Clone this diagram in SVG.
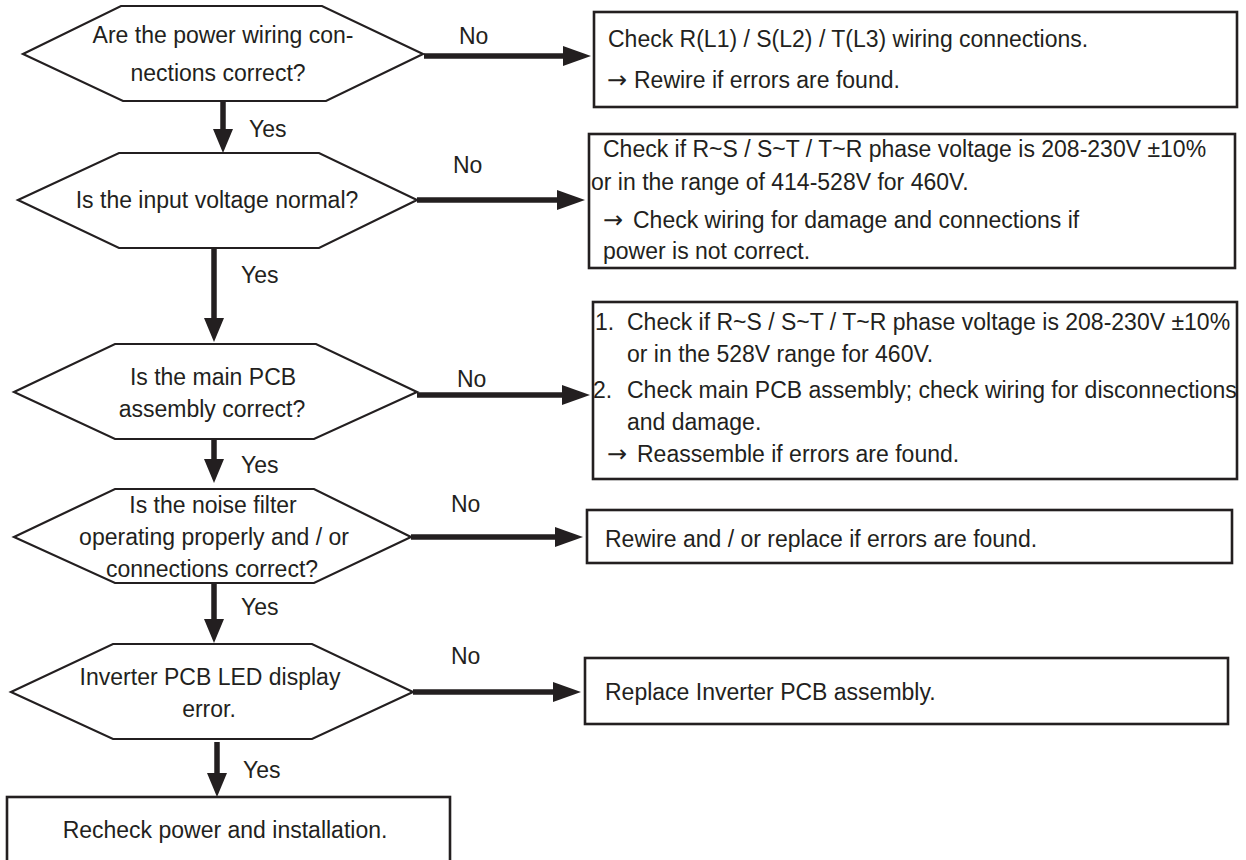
<svg xmlns="http://www.w3.org/2000/svg" width="1246" height="860" viewBox="0 0 1246 860">
<style>
.bg{fill:#ffffff}
.hex{fill:#ffffff;stroke:#231f20;stroke-width:2.2;stroke-linejoin:miter}
.box{fill:#ffffff;stroke:#231f20;stroke-width:2.6}
.t{font-family:"Liberation Sans",Arial,sans-serif;font-size:23px;fill:#231f20}
.c{text-anchor:middle}
.ar{font-family:"DejaVu Sans",sans-serif;font-size:24px}
.conn{stroke:#231f20;stroke-width:5.5;fill:none}
</style>
<defs>
<marker id="ah" markerUnits="userSpaceOnUse" markerWidth="28" markerHeight="20" refX="14" refY="10" orient="auto">
<path d="M0,0 L28,10 L0,20 Z" fill="#231f20"/>
</marker>
<marker id="av" markerUnits="userSpaceOnUse" markerWidth="24" markerHeight="20" refX="12" refY="10" orient="auto">
<path d="M0,0 L24,10 L0,20 Z" fill="#231f20"/>
</marker>
</defs>
<rect class="bg" x="0" y="0" width="1246" height="860"/>

<g id="connectors">
<line class="conn" x1="424" y1="56" x2="577" y2="56" marker-end="url(#ah)"/>
<line class="conn" x1="223" y1="102" x2="223" y2="141" marker-end="url(#av)"/>
<line class="conn" x1="417" y1="200" x2="571" y2="200" marker-end="url(#ah)"/>
<line class="conn" x1="214" y1="249" x2="214" y2="330" marker-end="url(#av)"/>
<line class="conn" x1="417" y1="395" x2="576" y2="395" marker-end="url(#ah)"/>
<line class="conn" x1="214" y1="440" x2="214" y2="471" marker-end="url(#av)"/>
<line class="conn" x1="411" y1="537" x2="569" y2="537" marker-end="url(#ah)"/>
<line class="conn" x1="214" y1="584" x2="214" y2="631" marker-end="url(#av)"/>
<line class="conn" x1="413" y1="692" x2="567" y2="692" marker-end="url(#ah)"/>
<line class="conn" x1="217" y1="742" x2="217" y2="785" marker-end="url(#av)"/>
<text class="t" x="459" y="44">No</text>
<text class="t" x="249" y="137">Yes</text>
<text class="t" x="453" y="173">No</text>
<text class="t" x="241" y="283">Yes</text>
<text class="t" x="457" y="387">No</text>
<text class="t" x="241" y="473">Yes</text>
<text class="t" x="451" y="512">No</text>
<text class="t" x="241" y="615">Yes</text>
<text class="t" x="451" y="664">No</text>
<text class="t" x="243" y="778">Yes</text>
</g>

<g id="q1">
<polygon class="hex" points="23,54 121,6 322,6 423,54 326,101 123,101"/>
<text class="t c" x="223" y="43">Are the power wiring con-</text>
<text class="t c" x="218" y="81">nections correct?</text>
</g>

<g id="a1">
<rect class="box" x="594" y="12" width="643" height="95"/>
<text class="t" x="608" y="47">Check R(L1) / S(L2) / T(L3) wiring connections.</text>
<text class="t" y="88"><tspan class="ar" x="607">→</tspan><tspan x="634">Rewire if errors are found.</tspan></text>
</g>

<g id="q2">
<polygon class="hex" points="18,200 119,153 319,153 417,200 319,248 119,248"/>
<text class="t c" x="217" y="208">Is the input voltage normal?</text>
</g>

<g id="a2">
<rect class="box" x="589" y="134" width="646" height="134"/>
<text class="t" x="603" y="157">Check if R~S / S~T / T~R phase voltage is 208-230V ±10%</text>
<text class="t" x="591" y="190">or in the range of 414-528V for 460V.</text>
<text class="t" y="228"><tspan class="ar" x="603">→</tspan><tspan x="633">Check wiring for damage and connections if</tspan></text>
<text class="t" x="603" y="259">power is not correct.</text>
</g>

<g id="q3">
<polygon class="hex" points="14,392 115,344 316,344 417,392 314,439 115,439"/>
<text class="t c" x="213" y="385">Is the main PCB</text>
<text class="t c" x="212" y="417">assembly correct?</text>
</g>

<g id="a3">
<rect class="box" x="593" y="302" width="644" height="177"/>
<text class="t" x="595" y="330">1.</text>
<text class="t" x="627" y="330">Check if R~S / S~T / T~R phase voltage is 208-230V ±10%</text>
<text class="t" x="627" y="362">or in the 528V range for 460V.</text>
<text class="t" x="593" y="398">2.</text>
<text class="t" x="627" y="398">Check main PCB assembly; check wiring for disconnections</text>
<text class="t" x="627" y="430">and damage.</text>
<text class="t" y="462"><tspan class="ar" x="607">→</tspan><tspan x="637">Reassemble if errors are found.</tspan></text>
</g>

<g id="q4">
<polygon class="hex" points="14,537 115,489 314,489 411,537 314,583 115,583"/>
<text class="t c" x="213" y="513">Is the noise filter</text>
<text class="t c" x="214" y="545">operating properly and / or</text>
<text class="t c" x="212" y="577">connections correct?</text>
</g>

<g id="a4">
<rect class="box" x="587" y="510" width="645" height="53"/>
<text class="t" x="605" y="547">Rewire and / or replace if errors are found.</text>
</g>

<g id="q5">
<polygon class="hex" points="11,692 113,644 312,644 413,692 312,739 113,739"/>
<text class="t c" x="210" y="685">Inverter PCB LED display</text>
<text class="t c" x="209" y="717">error.</text>
</g>

<g id="a5">
<rect class="box" x="585" y="658" width="643" height="66"/>
<text class="t" x="605" y="700">Replace Inverter PCB assembly.</text>
</g>

<g id="end">
<rect class="box" x="7" y="797" width="443" height="70"/>
<text class="t c" x="225" y="838">Recheck power and installation.</text>
</g>
</svg>
